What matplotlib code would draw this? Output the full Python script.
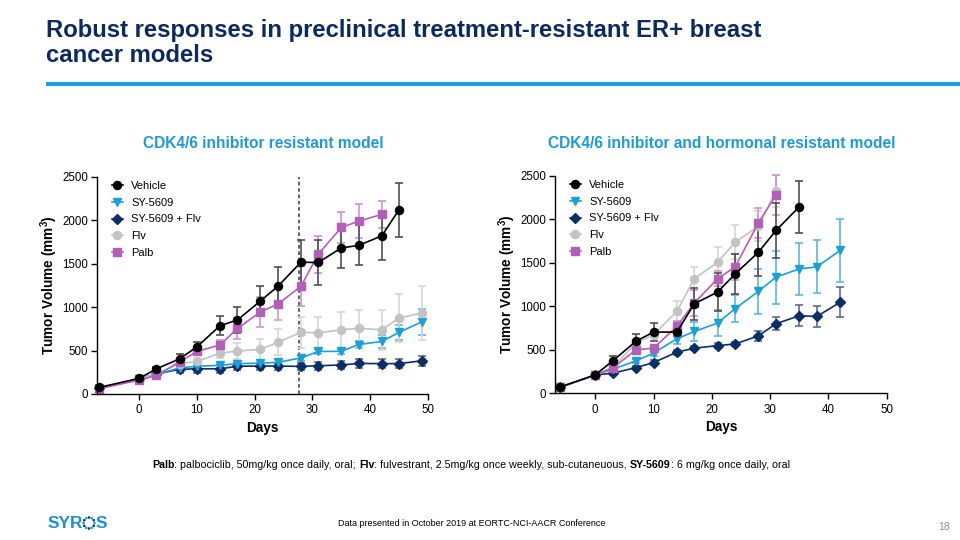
import matplotlib
matplotlib.use("Agg")
import matplotlib.pyplot as plt
from matplotlib.lines import Line2D
import numpy as np

plt.rcParams['font.family'] = ['Liberation Sans', 'DejaVu Sans']
plt.rcParams['mathtext.fontset'] = 'custom'
plt.rcParams['mathtext.bf'] = 'Liberation Sans:bold'
plt.rcParams['mathtext.rm'] = 'Liberation Sans'

# ---------------- data ----------------
series_names = ["Vehicle", "SY-5609", "SY-5609 + Flv", "Flv", "Palb"]

# Left: CDK4/6 inhibitor resistant model
days_L = [-7, 0, 3, 7, 10, 14, 17, 21, 24, 28, 31, 35, 38, 42, 45, 49]
veh_L = [75, 180, 290, 405, 543, 787, 852, 1072, 1240, 1518, 1515, 1683, 1712, 1822, 2124]
veh_L_err = [10, 15, 20, 55, 55, 112, 146, 168, 225, 258, 260, 235, 230, 276, 310]
sy_L = [70, 170, 225, 300, 320, 330, 350, 355, 365, 415, 490, 492, 570, 605, 711, 833]
sy_L_err = [5, 10, 10, 20, 25, 30, 30, 35, 35, 40, 30, 30, 45, 75, 85, 150]
syflv_L = [65, 175, 230, 285, 290, 290, 320, 322, 322, 318, 325, 335, 352, 350, 350, 383]
syflv_L_err = [5, 10, 10, 40, 45, 45, 40, 40, 40, 40, 45, 45, 50, 55, 55, 55]
flv_L = [70, 175, 230, 350, 375, 470, 495, 515, 595, 710, 705, 740, 757, 740, 875, 935]
flv_L_err = [5, 10, 15, 20, 30, 60, 90, 120, 150, 180, 180, 210, 215, 230, 280, 310]
palb_L = [60, 160, 215, 370, 490, 565, 755, 945, 1035, 1240, 1610, 1920, 1990, 2070]
palb_L_err = [5, 10, 15, 20, 30, 55, 120, 170, 180, 230, 215, 180, 195, 155]
switch_day_L = 27.7

# Right: CDK4/6 inhibitor and hormonal resistant model
days_R = [-6, 0, 3, 7, 10, 14, 17, 21, 24, 28, 31, 35, 38, 42]
veh_R = [73, 211, 373, 600, 704, 704, 1030, 1165, 1373, 1623, 1873, 2146]
veh_R_err = [10, 15, 61, 84, 104, 50, 182, 215, 231, 277, 318, 302]
sy_R = [70, 211, 277, 373, 462, 627, 711, 808, 975, 1173, 1336, 1431, 1454, 1644]
sy_R_err = [5, 10, 15, 20, 30, 55, 110, 150, 160, 260, 305, 300, 305, 360]
syflv_R = [70, 211, 231, 296, 353, 473, 519, 549, 567, 661, 800, 892, 884, 1046]
syflv_R_err = [5, 10, 15, 20, 25, 30, 25, 25, 25, 58, 73, 119, 116, 173]
flv_R = [70, 211, 300, 577, 673, 942, 1319, 1507, 1738, 1923, 2327]
flv_R_err = [5, 10, 20, 30, 40, 115, 135, 178, 193, 170, 184]
palb_R = [70, 211, 290, 500, 519, 769, 1039, 1319, 1454, 1962, 2280]
palb_R_err = [5, 10, 15, 25, 30, 60, 150, 90, 150, 173, 230]

x_ticks = [0, 10, 20, 30, 40, 50]
y_ticks = [0, 500, 1000, 1500, 2000, 2500]

# ---------------- styles ----------------
style = {
    "Vehicle":       dict(color="#000000", ecolor="#505050", marker="o", ms=5.8),
    "SY-5609":       dict(color="#1a9fd6", ecolor="#5ab8e0", marker="v", ms=5.8),
    "SY-5609 + Flv": dict(color="#0c2d66", ecolor="#5d6c88", marker="D", ms=4.8),
    "Flv":           dict(color="#c3c3c3", ecolor="#d6d6d6", marker="o", ms=5.8),
    "Palb":          dict(color="#b35fb8", ecolor="#cf93d2", marker="s", ms=5.2),
}
draw_order = ["SY-5609 + Flv", "SY-5609", "Flv", "Palb", "Vehicle"]

NAVY = "#0b2a5e"
CYAN = "#1e9ad6"

fig = plt.figure(figsize=(9.6, 5.4), dpi=100)
bg = fig.add_axes([0, 0, 1, 1])
bg.set_xlim(0, 960)
bg.set_ylim(540, 0)
bg.axis("off")

# title
bg.text(46, 31, "Robust responses in preclinical treatment-resistant ER+ breast",
        fontsize=17.2, fontweight="bold", color=NAVY, va="center", ha="left")
bg.text(46, 56, "cancer models",
        fontsize=17.2, fontweight="bold", color=NAVY, va="center", ha="left")
bg.plot([46, 960], [84, 84], color="#1ea0d8", lw=3, solid_capstyle="butt")

# subtitles
bg.text(263, 143, "CDK4/6 inhibitor resistant model", fontsize=11.2,
        fontweight="bold", color=CYAN, ha="center", va="center")
bg.text(722, 143, "CDK4/6 inhibitor and hormonal resistant model", fontsize=11.2,
        fontweight="bold", color=CYAN, ha="center", va="center")


def make_axes(rect, days, data, xmin):
    ax = fig.add_axes(rect)
    for name in draw_order:
        vals, errs = data[name]
        st = style[name]
        n = len(vals)
        ax.errorbar(days[:n], vals, yerr=errs, color=st["color"], ecolor=st["ecolor"],
                    marker=st["marker"], ms=st["ms"], lw=1.2, elinewidth=1.2,
                    capsize=3, capthick=1.2, mec=st["color"], mfc=st["color"],
                    clip_on=False)
    ax.set_xlim(xmin, 50)
    ax.set_ylim(0, 2500)
    ax.set_xticks(x_ticks)
    ax.set_yticks(y_ticks)
    ax.spines["top"].set_visible(False)
    ax.spines["right"].set_visible(False)
    for s in ("left", "bottom"):
        ax.spines[s].set_linewidth(1.0)
    ax.tick_params(axis="both", labelsize=8.3, length=4, width=1.0, direction="out")
    ax.tick_params(axis="y", pad=2.5)
    ax.set_xlabel("Days", fontsize=9.8, fontweight="bold", labelpad=3)
    ax.set_ylabel("Tumor Volume (mm$^\\mathbf{3}$)", fontsize=9.8, fontweight="bold", labelpad=1.5)
    handles = [Line2D([], [], color=style[n]["color"], marker=style[n]["marker"],
                      ms=style[n]["ms"], lw=1.2) for n in series_names]
    ax.legend(handles, series_names, loc="upper left", bbox_to_anchor=(0.044, 0.983),
              frameon=False, fontsize=8.0, handlelength=1.0, handletextpad=0.75,
              labelspacing=0.62, borderpad=0, borderaxespad=0)
    return ax


data_L = {
    "Vehicle": (veh_L, veh_L_err), "SY-5609": (sy_L, sy_L_err),
    "SY-5609 + Flv": (syflv_L, syflv_L_err), "Flv": (flv_L, flv_L_err),
    "Palb": (palb_L, palb_L_err),
}
data_R = {
    "Vehicle": (veh_R, veh_R_err), "SY-5609": (sy_R, sy_R_err),
    "SY-5609 + Flv": (syflv_R, syflv_R_err), "Flv": (flv_R, flv_R_err),
    "Palb": (palb_R, palb_R_err),
}

axL = make_axes([97 / 960, 1 - 394 / 540, 331 / 960, 217 / 540], days_L, data_L, -7.3)
axL.plot([switch_day_L, switch_day_L], [0, 2500], color="#555555", lw=1.3,
         ls=(0, (2, 1.5)), zorder=0.5, clip_on=False)
axR = make_axes([555 / 960, 1 - 393.3 / 540, 331.7 / 960, 217.3 / 540], days_R, data_R, -6.9)

# footnote with bold parts
parts = [("Palb", "bold"), (": palbociclib, 50mg/kg once daily, oral; ", "normal"),
         ("Flv", "bold"), (": fulvestrant, 2.5mg/kg once weekly, sub-cutaneuous, ", "normal"),
         ("SY-5609", "bold"), (": 6 mg/kg once daily, oral", "normal")]
prev = None
for s, w in parts:
    if prev is None:
        prev = bg.text(152, 470, s, fontsize=7.7, fontweight=w, ha="left", va="bottom")
    else:
        prev = bg.annotate(s, xy=(1, 0), xycoords=prev, fontsize=7.7, fontweight=w,
                           ha="left", va="bottom")

bg.text(472, 524, "Data presented in October 2019 at EORTC-NCI-AACR Conference",
        fontsize=6.5, ha="center", va="center")
bg.text(950, 527, "18", fontsize=7.5, color="#8c8c8c", ha="right", va="center")

# logo
bg.text(48, 523, "SYR", fontsize=12.5, fontweight="bold", color="#1e8fd0",
        ha="left", va="center")
bg.text(96, 523, "S", fontsize=12.5, fontweight="bold", color="#1e8fd0",
        ha="left", va="center")
ang = np.linspace(0, 2 * np.pi, 12, endpoint=False)
bg.scatter(89 + 5.5 * np.cos(ang), 523 + 5.5 * np.sin(ang), s=3.5,
           c=["#0c2d66" if i % 2 else "#1e9ad6" for i in range(12)], lw=0)

fig.savefig("out.png", dpi=100)
